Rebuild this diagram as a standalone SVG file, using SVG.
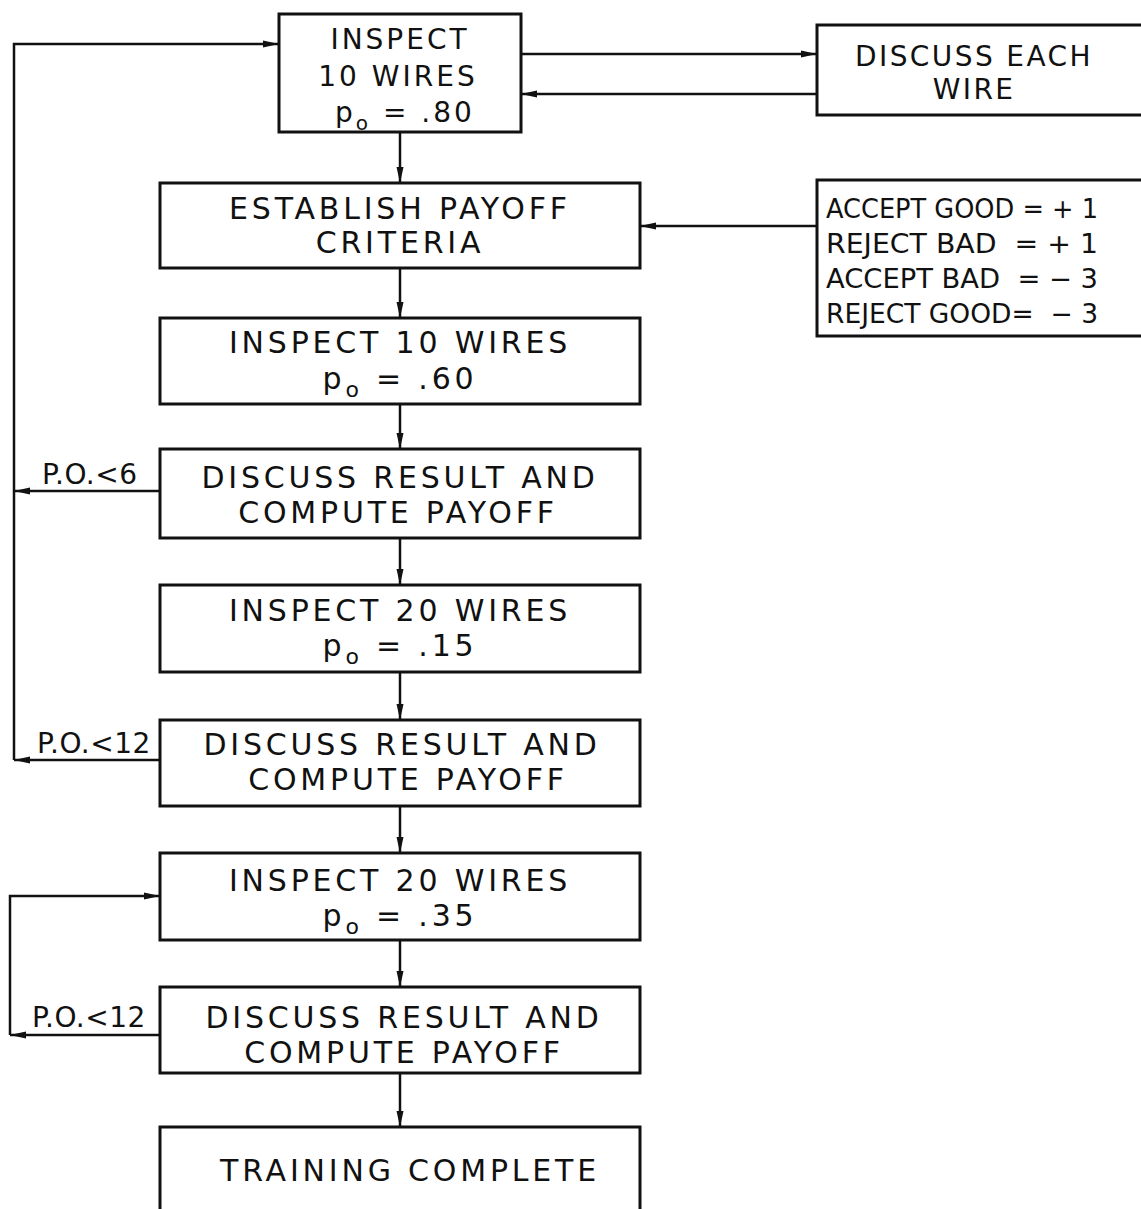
<svg xmlns="http://www.w3.org/2000/svg" width="1141" height="1209" viewBox="0 0 1141 1209">
<style>
.box{fill:none;stroke:#111;stroke-width:3}
.ln{fill:none;stroke:#111;stroke-width:2.5}
text{font-family:"DejaVu Sans","Liberation Sans",sans-serif;font-size:30px;fill:#111;letter-spacing:3.8px}
.c{text-anchor:middle}
.s{font-size:28px;letter-spacing:3px}
.e{font-size:28px;letter-spacing:2.4px}
.lbl{font-size:28px;letter-spacing:0.5px}
.p{font-size:27px;letter-spacing:0px;white-space:pre}
</style>
<defs>
<marker id="ah" viewBox="0 0 16 8" refX="16" refY="4" markerWidth="16" markerHeight="8" markerUnits="userSpaceOnUse" orient="auto">
<path d="M0,0.5 L16,4 L0,7.5 Z" fill="#111"/>
</marker>
</defs>
<rect width="1141" height="1209" fill="#fff"/>
<g id="connectors">
<path class="ln" d="M521,54 H817" marker-end="url(#ah)"/>
<path class="ln" d="M817,94 H521" marker-end="url(#ah)"/>
<path class="ln" d="M400,132 V183" marker-end="url(#ah)"/>
<path class="ln" d="M817,226 H640" marker-end="url(#ah)"/>
<path class="ln" d="M400,268 V318" marker-end="url(#ah)"/>
<path class="ln" d="M400,404 V449" marker-end="url(#ah)"/>
<path class="ln" d="M400,538 V585" marker-end="url(#ah)"/>
<path class="ln" d="M400,672 V720" marker-end="url(#ah)"/>
<path class="ln" d="M400,806 V853" marker-end="url(#ah)"/>
<path class="ln" d="M400,940 V987" marker-end="url(#ah)"/>
<path class="ln" d="M400,1073 V1127" marker-end="url(#ah)"/>
<path class="ln" d="M160,491 H14" marker-end="url(#ah)"/>
<path class="ln" d="M160,760 H14" marker-end="url(#ah)"/>
<path class="ln" d="M14,760 V44 H279" marker-end="url(#ah)"/>
<path class="ln" d="M160,1035 H10" marker-end="url(#ah)"/>
<path class="ln" d="M10,1035 V896 H160" marker-end="url(#ah)"/>
<text class="lbl" x="42" y="484">P.O.&lt;6</text>
<text class="lbl" x="37" y="753">P.O.&lt;12</text>
<text class="lbl" x="32" y="1027">P.O.&lt;12</text>
</g>
<g id="n1">
<rect class="box" x="279" y="14" width="242" height="118"/>
<text class="c s" x="400" y="49">INSPECT</text>
<text class="c s" x="398" y="86">10 WIRES</text>
<text class="c s" x="405" y="122">p<tspan font-size="20" dy="8">o</tspan><tspan dy="-8"> = .80</tspan></text>
</g>
<g id="n_discuss_each">
<rect class="box" x="817" y="25" width="330" height="90"/>
<text class="c e" x="974" y="66">DISCUSS EACH</text>
<text class="c e" x="974" y="99">WIRE</text>
</g>
<g id="n2">
<rect class="box" x="160" y="183" width="480" height="85"/>
<text class="c" x="400" y="219">ESTABLISH PAYOFF</text>
<text class="c" x="400" y="253">CRITERIA</text>
</g>
<g id="n_payoff">
<rect class="box" x="817" y="180" width="330" height="156"/>
<text class="p" x="826" y="218" textLength="272" lengthAdjust="spacingAndGlyphs">ACCEPT GOOD = + 1</text>
<text class="p" x="826" y="253" textLength="272" lengthAdjust="spacingAndGlyphs">REJECT BAD  = + 1</text>
<text class="p" x="826" y="288" textLength="272" lengthAdjust="spacingAndGlyphs">ACCEPT BAD  = − 3</text>
<text class="p" x="826" y="323" textLength="272" lengthAdjust="spacingAndGlyphs">REJECT GOOD=  − 3</text>
</g>
<g id="n3">
<rect class="box" x="160" y="318" width="480" height="86"/>
<text class="c" x="400" y="353">INSPECT 10 WIRES</text>
<text class="c" x="400" y="389">p<tspan font-size="22" dy="8">o</tspan><tspan dy="-8"> = .60</tspan></text>
</g>
<g id="n4">
<rect class="box" x="160" y="449" width="480" height="89"/>
<text class="c" x="400" y="488">DISCUSS RESULT AND</text>
<text class="c" x="398" y="523">COMPUTE PAYOFF</text>
</g>
<g id="n5">
<rect class="box" x="160" y="585" width="480" height="87"/>
<text class="c" x="400" y="621">INSPECT 20 WIRES</text>
<text class="c" x="400" y="656">p<tspan font-size="22" dy="8">o</tspan><tspan dy="-8"> = .15</tspan></text>
</g>
<g id="n6">
<rect class="box" x="160" y="720" width="480" height="86"/>
<text class="c" x="402" y="755">DISCUSS RESULT AND</text>
<text class="c" x="408" y="790">COMPUTE PAYOFF</text>
</g>
<g id="n7">
<rect class="box" x="160" y="853" width="480" height="87"/>
<text class="c" x="400" y="891">INSPECT 20 WIRES</text>
<text class="c" x="400" y="926">p<tspan font-size="22" dy="8">o</tspan><tspan dy="-8"> = .35</tspan></text>
</g>
<g id="n8">
<rect class="box" x="160" y="987" width="480" height="86"/>
<text class="c" x="404" y="1028">DISCUSS RESULT AND</text>
<text class="c" x="404" y="1063">COMPUTE PAYOFF</text>
</g>
<g id="n9">
<rect class="box" x="160" y="1127" width="480" height="90"/>
<text class="c" x="410" y="1181">TRAINING COMPLETE</text>
</g>
</svg>
